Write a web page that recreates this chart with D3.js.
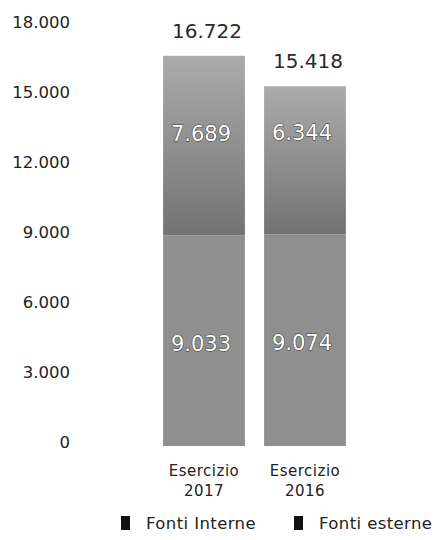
<!DOCTYPE html>
<html>
<head>
<meta charset="utf-8">
<script src="https://cdn.jsdelivr.net/npm/d3@7"></script>
<style>
  body { margin: 0; background: #fff; }
  text { font-family: "DejaVu Sans", sans-serif; }
</style>
</head>
<body>
<div id="chart"></div>
<script>
let categories = ["Esercizio 2017", "Esercizio 2016"];
let interne = [9033, 9074];
let esterne = [7689, 6344];
let totals = [16722, 15418];
let seriesNames = ["Fonti Interne", "Fonti esterne"];
let yTicks = [0, 3000, 6000, 9000, 12000, 15000, 18000];

let svg = d3.select("#chart")
    .append("svg")
    .attr("width", 440)
    .attr("height", 540);

// gradient for the upper block, lighter at the top like the scan
let defs = svg.append("defs");
let grad = defs.append("linearGradient")
    .attr("id", "upper")
    .attr("x1", 0).attr("y1", 0).attr("x2", 0).attr("y2", 1);
grad.append("stop").attr("offset", "0%").attr("stop-color", "#ababab");
grad.append("stop").attr("offset", "100%").attr("stop-color", "#737373");

let y = d3.scaleLinear().domain([0, 18000]).range([446, 26]);
let x = d3.scaleBand().domain(categories).range([153, 356]).paddingInner(0.19).paddingOuter(0.1);

let fmt = d3.formatLocale({decimal: ",", thousands: ".", grouping: [3], currency: ["", "€"]}).format(",");

// y axis: labels only
let yAxis = svg.append("g")
    .attr("transform", "translate(70,0)")
    .call(d3.axisLeft(y).tickValues(yTicks).tickFormat(fmt).tickSize(0).tickPadding(0));
yAxis.select(".domain").remove();
yAxis.selectAll("text")
    .attr("font-size", 16.5)
    .attr("fill", "#222")
    .attr("dy", "0.1em");

let stacked = categories.map((c, i) => ({cat: c, low: interne[i], high: esterne[i], total: totals[i]}));

let bars = svg.selectAll(".bar")
    .data(stacked)
    .enter().append("g")
    .attr("class", "bar");

bars.append("rect")
    .attr("x", d => x(d.cat))
    .attr("y", d => y(d.low))
    .attr("width", x.bandwidth())
    .attr("height", d => y(0) - y(d.low))
    .style("fill", "#8f8f8f");

bars.append("rect")
    .attr("x", d => x(d.cat))
    .attr("y", d => y(d.low + d.high))
    .attr("width", x.bandwidth())
    .attr("height", d => y(d.low) - y(d.low + d.high))
    .style("fill", "url(#upper)");

// value labels inside the blocks
function inner(sel, val, pos) {
    sel.append("text")
        .attr("x", d => x(d.cat) + x.bandwidth() / 2 - 3)
        .attr("y", pos)
        .attr("text-anchor", "middle")
        .attr("font-size", 21)
        .attr("fill", "#fff")
        .attr("stroke", "#333")
        .attr("stroke-width", 1)
        .attr("paint-order", "stroke")
        .text(val);
}
inner(bars, d => fmt(d.high), d => y(d.low) - 94);
inner(bars, d => fmt(d.low), d => y(d.low * 0.49) + 8);

bars.append("text")
    .attr("x", d => x(d.cat) + x.bandwidth() / 2 + 3)
    .attr("y", d => y(d.total) - 18)
    .attr("text-anchor", "middle")
    .attr("font-size", 20)
    .attr("fill", "#2a2a2a")
    .text(d => fmt(d.total));

// category labels on two lines
let xl = svg.selectAll(".xl")
    .data(categories)
    .enter().append("text")
    .attr("class", "xl")
    .attr("text-anchor", "middle")
    .attr("font-size", 15)
    .attr("letter-spacing", 0.5)
    .attr("fill", "#222");
xl.each(function(c) {
    let parts = c.split(" ");
    let t = d3.select(this);
    parts.forEach((p, i) => {
        t.append("tspan")
            .attr("x", x(c) + x.bandwidth() / 2)
            .attr("y", 476 + i * 20)
            .text(p);
    });
});

// legend
let legX = [121, 294];
let leg = svg.selectAll(".leg")
    .data(seriesNames)
    .enter().append("g")
    .attr("class", "leg")
    .attr("transform", (d, i) => "translate(" + legX[i] + ",516)");
leg.append("rect")
    .attr("width", 9).attr("height", 14)
    .style("fill", "#111");
leg.append("text")
    .attr("x", 25).attr("y", 13)
    .attr("font-size", 16.5)
    .attr("letter-spacing", 0.4)
    .attr("fill", "#222")
    .text(d => d);
</script>
</body>
</html>
